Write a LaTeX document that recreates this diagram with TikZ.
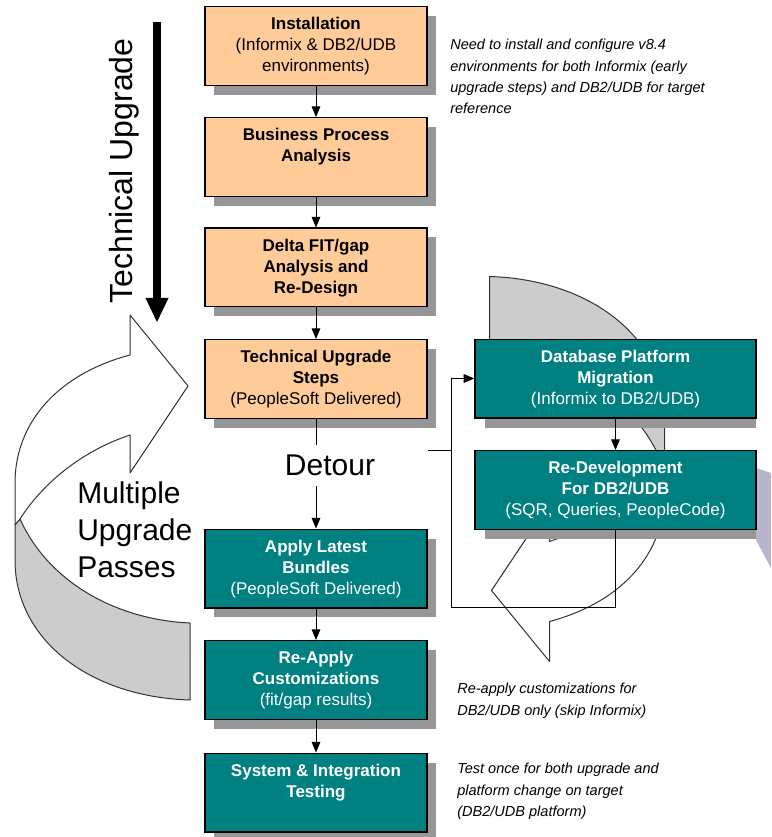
\documentclass[tikz,border=0pt]{standalone}
\usepackage{fontspec}
\setmainfont{Liberation Sans}
\usetikzlibrary{arrows.meta,calc,shadows}
\definecolor{peach}{HTML}{FFCC99}
\definecolor{tealbox}{HTML}{008080}
\definecolor{shadowgrey}{HTML}{969696}
\definecolor{ribbongrey}{HTML}{CCCCCC}
\definecolor{lavshape}{HTML}{B9B5CC}
\newcommand\bxt[2]{\parbox[c][59pt][t]{#1}{\centering\vspace*{8pt}#2\par}}
\tikzset{
  box/.style={draw=black, line width=1pt, inner sep=0pt, minimum width=166.5pt,
    minimum height=59pt, font=\fontsize{12.75}{15.75}\selectfont},
  orangebox/.style={box, fill=peach, text=black,
    drop shadow={shadow xshift=7pt, shadow yshift=-7pt, opacity=1, fill=shadowgrey}},
  tealleft/.style={box, fill=tealbox, text=white,
    drop shadow={shadow xshift=7pt, shadow yshift=-7pt, opacity=1, fill=shadowgrey}},
  tealright/.style={box, fill=tealbox, text=white, minimum width=210.75pt},
  conn/.style={line width=0.75pt, draw=black},
  arr/.style={conn, -{Triangle[length=8pt,width=6.5pt]}},
  ribbonline/.style={draw=black!80, line width=0.75pt, line join=round},
  note/.style={font=\fontsize{10.9}{16}\selectfont\itshape, align=left,
    anchor=north west, inner sep=0pt},
  biglabel/.style={font=\fontsize{22.5}{28}\selectfont, inner sep=0pt},
}
\begin{document}
\begin{tikzpicture}[x=0.75pt,y=-0.75pt]
\useasboundingbox (0,0) rectangle (771,837);

% left ribbon (multiple upgrade passes)
\draw[ribbonline, fill=ribbongrey] (20,519) .. controls (50,585) and (120,620) .. (190,623)
  -- (190,700) .. controls (90,697) and (15,640) .. (15,560) -- (15,525) -- cycle;
\draw[ribbonline, fill=white] (15,483) .. controls (15,425) and (55,375) .. (130,355)
  -- (130,315) -- (188,386) -- (130,473) -- (130,435)
  .. controls (85,450) and (45,480) .. (20,519) -- (15,525) -- cycle;

% right ribbon (same shape, turned half round)
\begin{scope}[shift={(679.5,976.5)}, rotate=180]
\draw[ribbonline, fill=ribbongrey] (20,519) .. controls (50,585) and (120,620) .. (190,623)
  -- (190,700) .. controls (90,697) and (15,640) .. (15,560) -- (15,525) -- cycle;
\draw[ribbonline, fill=white] (15,483) .. controls (15,425) and (55,375) .. (130,355)
  -- (130,315) -- (188,386) -- (130,473) -- (130,435)
  .. controls (85,450) and (45,480) .. (20,519) -- (15,525) -- cycle;
\end{scope}

% lavender fragment at right edge
\fill[lavshape] (756,468) -- (771,473) -- (771,568) -- (756,540) -- cycle;

% technical upgrade arrow
\fill[black] (153,22) rectangle (161,299);
\fill[black] (145.5,298) -- (168.5,298) -- (157,322) -- cycle;
\node[biglabel, font=\fontsize{24}{28}\selectfont, rotate=90] (tulabel) at (124,171) {Technical Upgrade};

% multiple upgrade passes
\node[biglabel, align=left, anchor=north west] (mup) at (77,481) {Multiple\\Upgrade\\Passes};

% shadows of right boxes
\fill[shadowgrey] (485,418) rectangle (756,428);
\fill[shadowgrey] (485,529) rectangle (756,539);

% left column
\node[orangebox] (inst) at (316,46) {\bxt{166pt}{\textbf{Installation}\\(Informix \& DB2/UDB\\environments)}};
\node[orangebox] (bpa) at (316,157) {\bxt{166pt}{\textbf{Business Process}\\\textbf{Analysis}}};
\node[orangebox] (delta) at (316,267.5) {\bxt{166pt}{\textbf{Delta FIT/gap}\\\textbf{Analysis and}\\\textbf{Re-Design}}};
\node[orangebox] (tus) at (316,379) {\bxt{166pt}{\textbf{Technical Upgrade}\\\textbf{Steps}\\(PeopleSoft Delivered)}};
\node[tealleft] (alb) at (316,568.5) {\bxt{166pt}{\textbf{Apply Latest}\\\textbf{Bundles}\\(PeopleSoft Delivered)}};
\node[tealleft] (rac) at (316,680) {\bxt{166pt}{\textbf{Re-Apply}\\\textbf{Customizations}\\(fit/gap results)}};
\node[tealleft] (sit) at (316,792.5) {\bxt{166pt}{\textbf{System \& Integration}\\\textbf{Testing}}};

% right column
\node[tealright] (dpm) at (615.5,378.5) {\bxt{210pt}{\textbf{Database Platform}\\\textbf{Migration}\\(Informix to DB2/UDB)}};
\node[tealright] (rdev) at (615.5,490) {\bxt{210pt}{\textbf{Re-Development}\\\textbf{For DB2/UDB}\\(SQR, Queries, PeopleCode)}};

% detour label
\node[biglabel, fill=white, minimum width=146.25pt, minimum height=30.75pt] (detour) at (330,465.5) {Detour};

% connectors
\draw[arr] (inst) -- (bpa);
\draw[arr] (bpa) -- (delta);
\draw[arr] (delta) -- (tus);
\draw[conn] (tus.south) -- (tus.south |- detour.north);
\draw[arr] (alb.north |- detour.south) -- (alb.north);
\draw[arr] (alb) -- (rac);
\draw[arr] (rac) -- (sit);
\draw[arr] (dpm.south) -- (rdev.north);
\coordinate (loopcorner) at (451,607);
\coordinate (dj) at (451,450);
\draw[arr] (rdev.south) |- (loopcorner) |- (dpm.west);
\draw[conn] (detour.north east |- dj) -- (dj);

% notes
\node[note] (n1) at (450,39) {Need to install and configure v8.4\\environments for both Informix (early\\upgrade steps) and DB2/UDB for target\\reference};
\node[note] (n2) at (457,683) {Re-apply customizations for\\DB2/UDB only (skip Informix)};
\node[note] (n3) at (457,763) {Test once for both upgrade and\\platform change on target\\(DB2/UDB platform)};
\end{tikzpicture}
\end{document}
